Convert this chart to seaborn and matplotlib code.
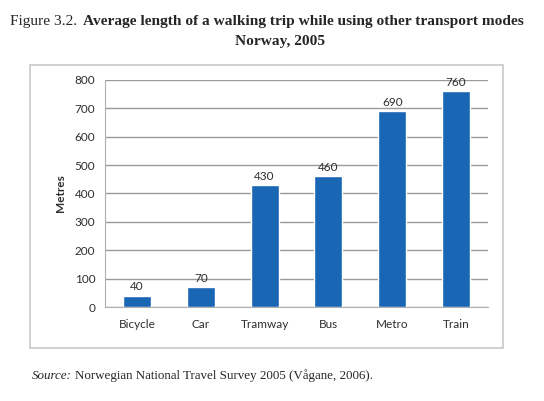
import numpy as np
import pandas as pd
import seaborn as sns
import matplotlib.pyplot as plt
from matplotlib.patches import Rectangle

modes = ['Bicycle', 'Car', 'Tramway', 'Bus', 'Metro', 'Train']
metres = [40, 70, 430, 460, 690, 760]
y_ticks = [0, 100, 200, 300, 400, 500, 600, 700, 800]

df = pd.DataFrame({'mode': modes, 'metres': metres})

sns.set_style('white')
plt.rcParams['font.family'] = ['Lato', 'DejaVu Sans']

W, H = 544, 401
fig = plt.figure(figsize=(W / 100, H / 100), dpi=100)

# chart box border
fig.patches.append(Rectangle((30 / W, 1 - 348 / H), 473 / W, 283 / H,
                             transform=fig.transFigure, fill=False,
                             edgecolor='#c8c8c8', linewidth=1.2))

ax = fig.add_axes([105 / W, 1 - 307 / H, 383 / W, 227 / H])
sns.barplot(data=df, x='mode', y='metres', color='#1866b4', width=0.44,
            saturation=1, ax=ax, zorder=3)

ax.set_ylim(0, 800)
ax.set_xlim(-0.5, len(modes) - 0.5)
ax.set_yticks(y_ticks)
ax.yaxis.grid(True, color='#9a9a9a', linewidth=1)
ax.set_axisbelow(True)
for s in ['top', 'right']:
    ax.spines[s].set_visible(False)
ax.spines['left'].set_color('#b0b0b0')
ax.spines['bottom'].set_color('#b0b0b0')
ax.tick_params(axis='y', length=4, color='#b0b0b0', labelsize=8.5, labelcolor='#2e2e2e', pad=3)
ax.tick_params(axis='x', length=0, labelsize=8.5, labelcolor='#2e2e2e', pad=9)
ax.set_xticks(np.arange(-0.5, len(modes)), minor=True)
ax.tick_params(axis='x', which='minor', length=3, color='#b0b0b0')
ax.set_xlabel('')
ax.set_ylabel('Metres', fontsize=8.5, fontweight='bold', color='#2e2e2e', labelpad=6)

for i, v in enumerate(metres):
    ax.text(i, v + 12, str(v), ha='center', va='bottom', fontsize=8.5, color='#2e2e2e')

title_font = ['Liberation Serif', 'DejaVu Serif']
t1 = fig.text(10 / W, 1 - 22 / H, 'Figure 3.2.', family=title_font, fontsize=11.1, va='center')
fig.canvas.draw()
bb = t1.get_window_extent()
fig.text(bb.x1 / W + 6 / W, 1 - 22 / H, 'Average length of a walking trip while using other transport modes',
         family=title_font, fontsize=11.1, fontweight='bold', va='center')
fig.text(0.5 + 8 / W, 1 - 42 / H, 'Norway, 2005', family=title_font, fontsize=11.1,
         fontweight='bold', va='center', ha='center')

s1 = fig.text(32 / W, 1 - 376 / H, 'Source:', family=title_font, fontsize=9.4,
              style='italic', va='center')
fig.canvas.draw()
bb = s1.get_window_extent()
fig.text(bb.x1 / W + 3 / W, 1 - 376 / H, 'Norwegian National Travel Survey 2005 (Vågane, 2006).',
         family=title_font, fontsize=9.4, va='center')

fig.savefig('out.png', dpi=100)
